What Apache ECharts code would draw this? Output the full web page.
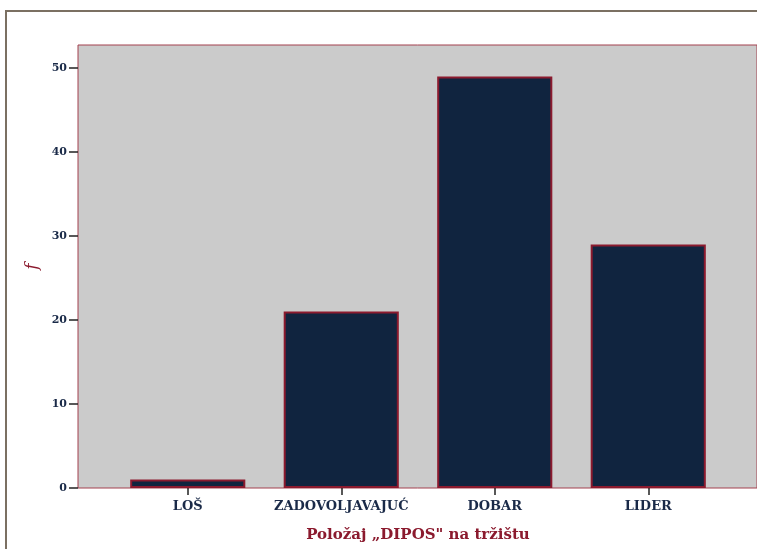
<!DOCTYPE html>
<html><head><meta charset="utf-8">
<script src="https://cdn.jsdelivr.net/npm/echarts@6/dist/echarts.min.js"></script>
<style>html,body{margin:0;padding:0;background:#fff}#c{width:757px;height:549px}</style>
</head><body><div id="c"></div>
<script>
const categories = ['LOŠ', 'ZADOVOLJAVAJUĆ', 'DOBAR', 'LIDER'];
const values = [1, 21, 49, 29];
const yTicks = [0, 10, 20, 30, 40, 50];
const xTitle = 'Položaj „DIPOS" na tržištu';
const yTitle = 'f';

const navy = '#1a2a48';
const red = '#8b1a2e';
const font = 'DejaVu Serif';

const chart = echarts.init(document.getElementById('c'));
chart.setOption({
  animation: false,
  graphic: [{
    type: 'rect', shape: {x: 6, y: 11, width: 800, height: 600},
    style: {fill: 'none', stroke: '#7b7062', lineWidth: 2}, z: -10
  }],
  grid: [
    {left: 111, width: 614, top: 45, bottom: 61, containLabel: false},
    {left: 78, right: -10, top: 45, bottom: 61, show: true, backgroundColor: '#cbcbcb',
     borderColor: '#a3404f', borderWidth: 1, z: 0}
  ],
  xAxis: [{
    type: 'category', gridIndex: 0, data: categories,
    axisLine: {show: false},
    axisTick: {show: true, alignWithLabel: true, length: 7, lineStyle: {color: '#222', width: 1.5}},
    axisLabel: {interval: 0, color: navy, fontFamily: font, fontWeight: 'bold', fontSize: 13, margin: 12},
    name: xTitle, nameLocation: 'middle', nameGap: 40,
    nameTextStyle: {color: red, fontFamily: font, fontWeight: 'bold', fontSize: 15}
  }, {
    type: 'value', gridIndex: 1, show: false, min: 0, max: 1
  }],
  yAxis: [{
    type: 'value', gridIndex: 0, min: 0, max: 52.74, offset: 33,
    axisLine: {show: false}, splitLine: {show: false},
    axisTick: {show: true, length: 9, customValues: yTicks, lineStyle: {color: '#222', width: 1.5}},
    axisLabel: {customValues: yTicks, color: navy, fontFamily: font, fontWeight: 'bold', fontSize: 11, margin: 11},
    name: yTitle, nameLocation: 'middle', nameGap: 36, nameRotate: 90,
    nameTextStyle: {color: red, fontFamily: font, fontStyle: 'italic', fontSize: 17}
  }, {
    type: 'value', gridIndex: 1, show: false, min: 0, max: 1
  }],
  series: [{
    type: 'bar', xAxisIndex: 0, yAxisIndex: 0, data: values, barWidth: '75%',
    itemStyle: {color: '#10243f', borderColor: red, borderWidth: 2}, z: 5
  }]
});
</script></body></html>
